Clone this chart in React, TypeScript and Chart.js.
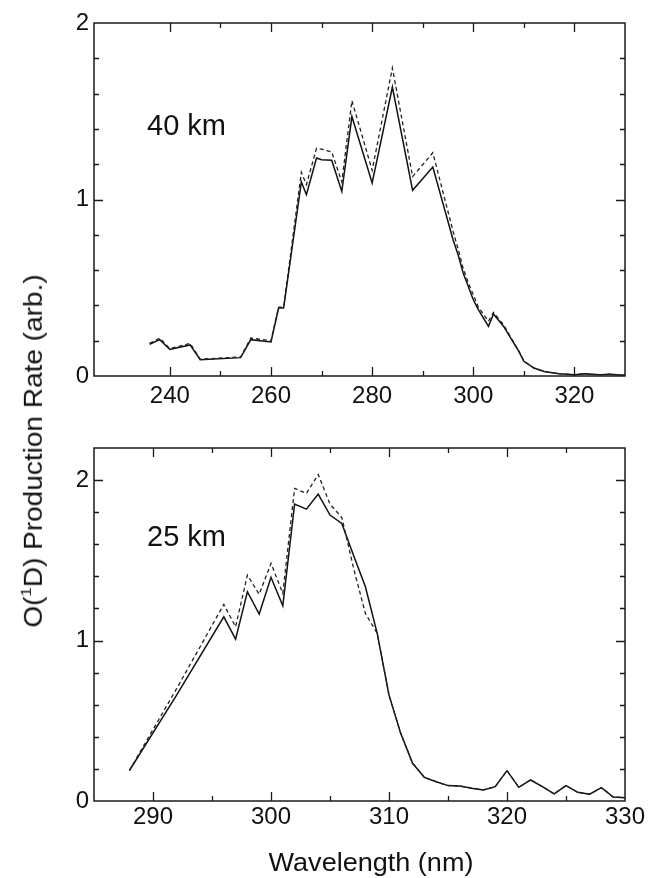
import React, { useEffect, useRef } from "react";
import { Chart, registerables } from "chart.js";

Chart.register(...registerables);

// ---------- data ----------
const wavelengths40 = [
  236, 238, 240, 244, 246, 254, 256, 260, 261.5, 262.5, 266, 267, 269, 270, 272,
  274, 276, 280, 284, 288, 292, 296, 297, 298, 299, 300, 301, 303, 304, 306,
  307.5, 309, 310, 312, 314, 317, 320, 322, 325, 327, 330,
];
const solid40 = [
  0.18, 0.206, 0.15, 0.176, 0.092, 0.104, 0.206, 0.193, 0.385, 0.385, 1.1, 1.027, 1.235, 1.225, 1.222,
  1.046, 1.47, 1.093, 1.637, 1.052, 1.184, 0.772, 0.687, 0.584, 0.508, 0.432, 0.376, 0.281, 0.351, 0.281,
  0.21, 0.14, 0.083, 0.045, 0.026, 0.013, 0.007, 0.013, 0.007, 0.01, 0.004,
];
const dashed40 = [
  0.185, 0.215, 0.155, 0.185, 0.095, 0.108, 0.215, 0.2, 0.39, 0.39, 1.154, 1.084, 1.29, 1.285, 1.27,
  1.1, 1.56, 1.165, 1.745, 1.13, 1.265, 0.82, 0.72, 0.61, 0.53, 0.46, 0.39, 0.31, 0.36, 0.29,
  0.215, 0.142, 0.085, 0.045, 0.026, 0.013, 0.007, 0.013, 0.007, 0.01, 0.004,
];

const wavelengths25 = [
  288, 292, 296, 297, 298, 299, 300, 301, 302, 303, 304, 305, 306, 307, 308, 309, 310, 311, 312,
  313, 314, 315, 316, 317, 318, 319, 320, 321, 322, 323, 324, 325, 326, 327, 328, 329, 330,
];
const solid25 = [
  0.19, 0.66, 1.148, 1.009, 1.304, 1.165, 1.394, 1.217, 1.85, 1.819, 1.913, 1.782, 1.73, 1.53, 1.335, 1.045, 0.66, 0.42, 0.235,
  0.147, 0.12, 0.096, 0.093, 0.08, 0.069, 0.089, 0.189, 0.085, 0.131, 0.089, 0.044, 0.096, 0.054, 0.042, 0.083, 0.025, 0.021,
];
const dashed25 = [
  0.19, 0.7, 1.225, 1.086, 1.408, 1.288, 1.481, 1.294, 1.948, 1.917, 2.035, 1.85, 1.767, 1.45, 1.169, 1.045, 0.66, 0.42, 0.235,
  0.147, 0.12, 0.096, 0.093, 0.08, 0.069, 0.089, 0.189, 0.085, 0.131, 0.089, 0.044, 0.096, 0.054, 0.042, 0.083, 0.025, 0.021,
];

const xLabels40 = [240, 260, 280, 300, 320];
const xLabels25 = [290, 300, 310, 320, 330];
const yLabels = [0, 1, 2];

const FONT = "'Liberation Sans', Arial, Helvetica, sans-serif";
const INK = "#1a1a1a";

function makeFrame(xMajor: number[], yMajor: number[]) {
  return {
    id: "frameTicks",
    afterDraw(chart: any) {
      const { ctx, chartArea: a } = chart;
      const xs = chart.scales.x;
      const ys = chart.scales.y;
      ctx.save();
      ctx.strokeStyle = INK;
      ctx.lineWidth = 1.5;
      ctx.strokeRect(a.left, a.top, a.right - a.left, a.bottom - a.top);
      ctx.lineWidth = 1.3;
      ctx.beginPath();
      xs.ticks.forEach((t: any) => {
        if (t.value <= xs.min + 1e-9 || t.value >= xs.max - 1e-9) return;
        const px = Math.round(xs.getPixelForValue(t.value)) + 0.5;
        const len = xMajor.some((m) => Math.abs(m - t.value) < 1e-6) ? 9 : 5;
        ctx.moveTo(px, a.bottom);
        ctx.lineTo(px, a.bottom - len);
        ctx.moveTo(px, a.top);
        ctx.lineTo(px, a.top + len);
      });
      ys.ticks.forEach((t: any) => {
        if (t.value <= ys.min + 1e-9 || t.value >= ys.max - 1e-9) return;
        const py = Math.round(ys.getPixelForValue(t.value)) + 0.5;
        const len = yMajor.some((m) => Math.abs(m - t.value) < 1e-6) ? 9 : 5;
        ctx.moveTo(a.left, py);
        ctx.lineTo(a.left + len, py);
        ctx.moveTo(a.right, py);
        ctx.lineTo(a.right - len, py);
      });
      ctx.stroke();
      ctx.restore();
    },
  };
}

type PanelProps = {
  top: number;
  height: number;
  padTop: number;
  xAxisH: number;
  xPad: number;
  xmin: number;
  xmax: number;
  xStep: number;
  ymax: number;
  xLabels: number[];
  wl: number[];
  solid: number[];
  dashed: number[];
};

function Panel(p: PanelProps) {
  const ref = useRef<HTMLCanvasElement>(null);
  useEffect(() => {
    if (!ref.current) return;
    const chart = new Chart(ref.current, {
      type: "line",
      data: {
        datasets: [
          {
            data: p.wl.map((x, i) => ({ x, y: p.dashed[i] })),
            borderColor: "#222",
            borderWidth: 1.3,
            borderDash: [4, 3],
            pointRadius: 0,
            fill: false,
            tension: 0,
          },
          {
            data: p.wl.map((x, i) => ({ x, y: p.solid[i] })),
            borderColor: "#111",
            borderWidth: 1.5,
            pointRadius: 0,
            fill: false,
            tension: 0,
          },
        ],
      },
      options: {
        responsive: false,
        animation: false,
        devicePixelRatio: 1,
        layout: { padding: { left: 0, right: 23, top: p.padTop, bottom: 0 } },
        plugins: { legend: { display: false }, tooltip: { enabled: false } },
        scales: {
          x: {
            type: "linear",
            min: p.xmin,
            max: p.xmax,
            grid: { display: false, drawTicks: false },
            border: { display: false },
            ticks: {
              stepSize: p.xStep,
              autoSkip: false,
              maxRotation: 0,
              padding: p.xPad,
              color: "#111",
              font: { family: FONT, size: 24 },
              callback: (v: any) =>
                p.xLabels.some((m) => Math.abs(m - Number(v)) < 1e-6) ? String(Math.round(Number(v))) : "",
            },
            afterFit: (s: any) => {
              s.height = p.xAxisH;
            },
          },
          y: {
            type: "linear",
            min: 0,
            max: p.ymax,
            grid: { display: false, drawTicks: false },
            border: { display: false },
            ticks: {
              stepSize: 0.2,
              autoSkip: false,
              padding: 5,
              color: "#111",
              font: { family: FONT, size: 24 },
              callback: (v: any) =>
                yLabels.some((m) => Math.abs(m - Number(v)) < 1e-6) ? String(Math.round(Number(v))) : "",
            },
            afterFit: (s: any) => {
              s.width = 94;
            },
          },
        },
      },
      plugins: [makeFrame(p.xLabels, yLabels)],
    } as any);
    return () => chart.destroy();
  }, []);
  return (
    <canvas
      ref={ref}
      width={648}
      height={p.height}
      style={{ position: "absolute", left: 0, top: p.top, width: 648, height: p.height, display: "block" }}
    />
  );
}

const textBase: React.CSSProperties = {
  position: "absolute",
  fontFamily: FONT,
  color: "#111",
  whiteSpace: "nowrap",
  lineHeight: 1,
};

export default function App() {
  return (
    <div style={{ position: "absolute", left: 0, top: 0, width: 648, height: 878, background: "#fff", overflow: "hidden" }}>
      <Panel
        top={0}
        height={420}
        padTop={23}
        xAxisH={44}
        xPad={6}
        xmin={225}
        xmax={330}
        xStep={10}
        ymax={2}
        xLabels={xLabels40}
        wl={wavelengths40}
        solid={solid40}
        dashed={dashed40}
      />
      <Panel
        top={420}
        height={430}
        padTop={28}
        xAxisH={49}
        xPad={2}
        xmin={285}
        xmax={330}
        xStep={5}
        ymax={2.2}
        xLabels={xLabels25}
        wl={wavelengths25}
        solid={solid25}
        dashed={dashed25}
      />
      <div style={{ ...textBase, left: 147, top: 111, fontSize: 29 }}>40 km</div>
      <div style={{ ...textBase, left: 147, top: 522, fontSize: 29 }}>25 km</div>
      <div
        style={{
          ...textBase,
          left: 371,
          top: 849,
          fontSize: 26,
          transform: "translateX(-50%) scaleX(1.04)",
        }}
      >
        Wavelength (nm)
      </div>
      <div
        style={{
          ...textBase,
          left: 32,
          top: 451,
          fontSize: 25,
          transform: "translate(-50%, -50%) rotate(-90deg) scaleX(1.12)",
        }}
      >
        O(<span style={{ fontSize: "0.6em", verticalAlign: "0.75em" }}>1</span>D) Production Rate (arb.)
      </div>
    </div>
  );
}
